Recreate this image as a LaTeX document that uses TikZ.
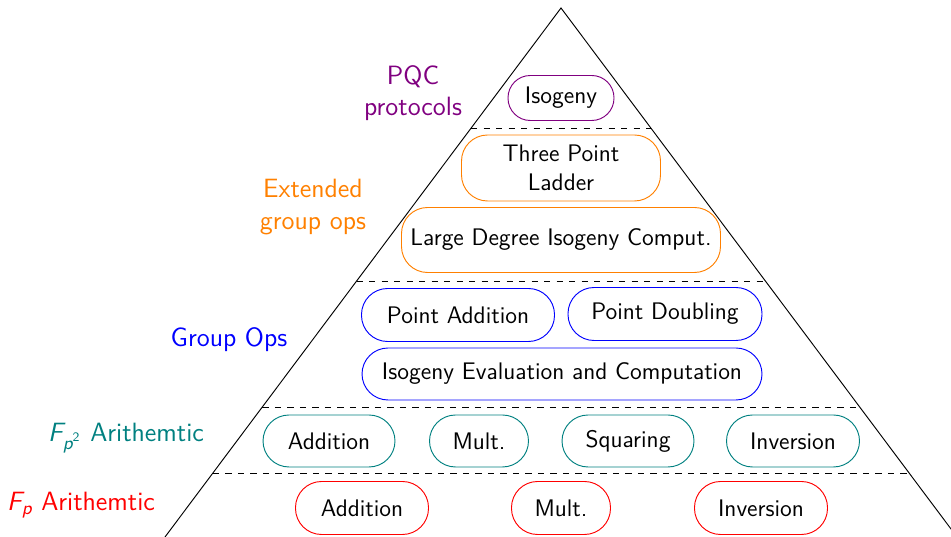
\documentclass[tikz,border=0pt]{standalone}
\usetikzlibrary{calc}
\definecolor{pqc}{RGB}{128,0,128}
\begin{document}
\begin{tikzpicture}[x=0.48pt,y=-0.48pt,
  font=\sffamily\fontsize{11.5}{13.8}\selectfont,
  box/.style={draw, rounded corners=12.5pt, inner sep=0pt, align=center, text=black, line width=0.45pt},
  lvl/.style={align=center, font=\sffamily\fontsize{12.7}{15}\selectfont},
  sep/.style={dashed, line width=0.45pt},
  edge/.style={line width=0.45pt}]
\useasboundingbox (0,0) rectangle (951,537);
\coordinate (apex) at (561,8);
\coordinate (bl) at (165,537);
\coordinate (br) at (957,537);
\draw[edge] (bl) -- (apex) -- (br);
% separators
\foreach \t/\n in {0.2268/a,0.5161/b,0.7543/c,0.8790/d}{
  \coordinate (l\n) at ($(apex)!\t!(bl)$);
  \coordinate (r\n) at ($(apex)!\t!(br)$);
  \draw[sep] (l\n) -- (r\n);
}
% PQC
\node[box, rounded corners=10.7pt, draw=pqc, minimum width=106*0.48pt, minimum height=45*0.48pt] (iso) at (561,98) {Isogeny};
\node[lvl, text=pqc] (lpqc) at (413,93) {PQC\\protocols};
% Extended group ops
\node[box, draw=orange, minimum width=199*0.48pt, minimum height=66*0.48pt] (tpl) at (561,168) {Three Point\\Ladder};
\node[box, draw=orange, minimum width=319*0.48pt, minimum height=65*0.48pt] (ldi) at (561,240) {Large Degree Isogeny Comput.};
\node[lvl, text=orange] (lext) at (313,207) {Extended\\group ops};
% Group ops
\node[box, draw=blue, minimum width=193*0.48pt, minimum height=53*0.48pt] (padd) at (458,315) {Point Addition};
\node[box, draw=blue, minimum width=194*0.48pt, minimum height=53*0.48pt] (pdbl) at (665,314) {Point Doubling};
\node[box, draw=blue, minimum width=400*0.48pt, minimum height=52*0.48pt] (iec) at (562,374) {Isogeny Evaluation and Computation};
\node[lvl, text=blue] (lgrp) at (229,340) {Group Ops};
% Fp2
\node[box, draw=teal, minimum width=132*0.48pt, minimum height=52*0.48pt] (f2add) at (329,441) {Addition};
\node[box, draw=teal, minimum width=99*0.48pt, minimum height=52*0.48pt] (f2mul) at (479,441) {Mult.};
\node[box, draw=teal, minimum width=132*0.48pt, minimum height=52*0.48pt] (f2sqr) at (628,441) {Squaring};
\node[box, draw=teal, minimum width=133*0.48pt, minimum height=52*0.48pt] (f2inv) at (793,441) {Inversion};
\node[lvl, text=teal] (lf2) at (126,438) {{\slshape F}\textsubscript{{\slshape p}\textsuperscript{2}} Arithemtic};
% Fp
\node[box, draw=red, minimum width=133*0.48pt, minimum height=53*0.48pt] (fadd) at (362,508) {Addition};
\node[box, draw=red, minimum width=99*0.48pt, minimum height=53*0.48pt] (fmul) at (561,508) {Mult.};
\node[box, draw=red, minimum width=133*0.48pt, minimum height=53*0.48pt] (finv) at (761,508) {Inversion};
\node[lvl, text=red] (lf) at (81,505) {{\slshape F}\textsubscript{\slshape p} Arithemtic};
\end{tikzpicture}
\end{document}
